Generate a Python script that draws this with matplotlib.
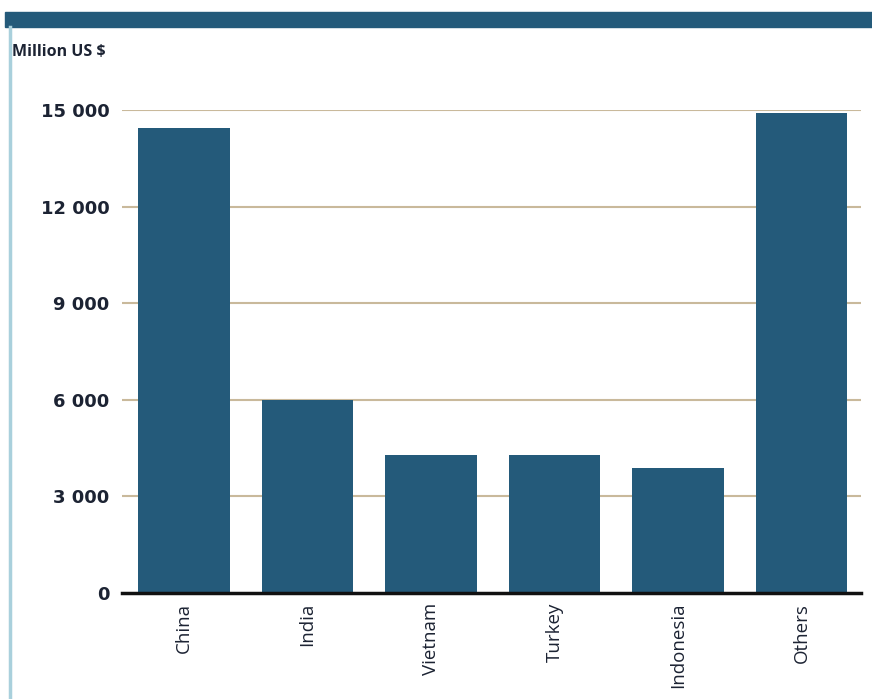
import matplotlib.pyplot as plt
from matplotlib.patches import Rectangle
from matplotlib.lines import Line2D

countries = ["China", "India", "Vietnam", "Turkey", "Indonesia", "Others"]
values = [14450, 6000, 4300, 4300, 3880, 14900]
yticks = [0, 3000, 6000, 9000, 12000, 15000]
ytick_labels = ["0", "3 000", "6 000", "9 000", "12 000", "15 000"]

bar_color = "#245a7a"
grid_color = "#c9b99b"
text_color = "#1c2333"

plt.rcParams["font.family"] = ["Open Sans", "DejaVu Sans"]

fig = plt.figure(figsize=(8.72, 6.99), dpi=100)

# header bar and left frame line
fig.patches.append(Rectangle((5 / 872, 1 - 27 / 699), 1, 15 / 699, transform=fig.transFigure,
                             color=bar_color, zorder=0))
fig.lines.append(Line2D([9.5 / 872, 9.5 / 872], [0, 1 - 27 / 699], transform=fig.transFigure,
                        color="#a9d0dc", lw=2.5))
fig.text(12 / 872, 1 - 52 / 699, "Million US $", fontsize=11.5, fontweight="bold",
         color=text_color, va="center", ha="left")

ax = fig.add_axes([122 / 872, 1 - 593 / 699, (861 - 122) / 872, (593 - 110) / 699])
x = range(len(countries))
ax.bar(x, values, width=0.74, color=bar_color, zorder=3)

ax.set_xlim(-0.5, 5.48)
ax.set_ylim(0, 15000)
ax.set_yticks(yticks)
ax.set_yticklabels(ytick_labels, fontsize=13, fontweight="bold", color=text_color,
                   family="DejaVu Sans")
ax.set_xticks(list(x))
ax.set_xticklabels(countries, rotation=90, fontsize=13.5, color=text_color, va="top")
ax.tick_params(axis="both", length=0)
ax.tick_params(axis="y", pad=9)
ax.tick_params(axis="x", pad=7)

for t in yticks[1:]:
    ax.axhline(t, color=grid_color, lw=1.5, zorder=1)

for s in ["top", "right", "left"]:
    ax.spines[s].set_visible(False)
ax.spines["bottom"].set_linewidth(2.5)
ax.spines["bottom"].set_color("#111111")
ax.spines["bottom"].set_zorder(4)

fig.savefig("out.png", dpi=100)
